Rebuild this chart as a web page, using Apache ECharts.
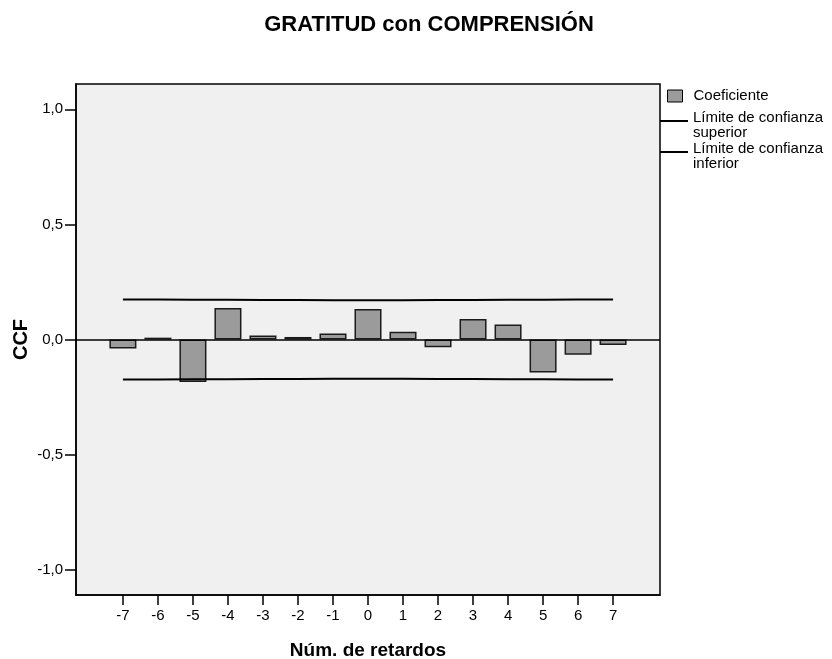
<!DOCTYPE html>
<html>
<head>
<meta charset="utf-8">
<script src="https://cdn.jsdelivr.net/npm/echarts@6/dist/echarts.min.js"></script>
<style>html,body{margin:0;padding:0;background:#fff}#c{width:832px;height:659px}</style>
</head>
<body>
<div id="c"></div>
<script>
const lags = [-7,-6,-5,-4,-3,-2,-1,0,1,2,3,4,5,6,7];
const coef = [-0.039,0.008,-0.185,0.137,0.017,0.011,0.026,0.133,0.034,-0.034,0.089,0.065,-0.143,-0.066,-0.024];
const upper = [0.174,0.174,0.173,0.173,0.172,0.172,0.171,0.171,0.171,0.172,0.172,0.173,0.173,0.174,0.174];
const lower = upper.map(v => -v);
const yTicks = [-1,-0.5,0,0.5,1];
const titleText = 'GRATITUD con COMPRENSIÓN';
const xName = 'Núm. de retardos';
const yName = 'CCF';
const sCoef = 'Coeficiente';
const sUp = 'Límite de confianza\nsuperior';
const sLo = 'Límite de confianza\ninferior';

const font = '"Liberation Sans", Arial, sans-serif';
const lineIcon = 'path://M0,0L28,0L28,2L0,2ZM0,11';
const chart = echarts.init(document.getElementById('c'), null, {renderer:'canvas'});
chart.setOption({
  backgroundColor:'#ffffff',
  animation:false,
  textStyle:{fontFamily:font},
  title:{text:titleText, left:429, top:14, padding:0, textAlign:'center',
    textStyle:{fontFamily:font, fontSize:22, fontWeight:'bold', color:'#000'}},
  grid:{left:76, right:172, top:84, bottom:64, outerBoundsMode:'none', containLabel:false,
    show:true, backgroundColor:'#f0f0f0', borderColor:'#000', borderWidth:1.5},
  legend:[
    {data:[{name:sCoef, icon:'rect', itemStyle:{color:'#9b9b9b', borderColor:'#000', borderWidth:1}}],
     orient:'vertical', left:667, top:87, padding:0, itemWidth:15, itemHeight:12,
     selectedMode:false,
     textStyle:{fontFamily:font, fontSize:15, lineHeight:15, color:'#000', padding:[3,0,0,6]}},
    {data:[{name:sUp, icon:lineIcon, itemStyle:{color:'#000', borderWidth:0}},
           {name:sLo, icon:lineIcon, itemStyle:{color:'#000', borderWidth:0}}],
     orient:'vertical', left:660, top:110.5, padding:0, itemWidth:28, itemHeight:11, itemGap:1,
     selectedMode:false,
     textStyle:{fontFamily:font, fontSize:15, lineHeight:15, color:'#000'}}
  ],
  xAxis:{type:'value', min:-8.34, max:8.34,
    name:xName, nameLocation:'middle', nameGap:46,
    nameTextStyle:{fontFamily:font, fontSize:19, fontWeight:'bold', color:'#000'},
    axisLine:{show:true, onZero:false, lineStyle:{color:'#000', width:1.5}},
    axisTick:{show:true, customValues:lags, length:10, lineStyle:{color:'#000', width:1.5}},
    axisLabel:{customValues:lags, margin:13, fontSize:15, color:'#000', fontFamily:font},
    splitLine:{show:false}},
  yAxis:{type:'value', min:-1.11, max:1.11,
    name:yName, nameLocation:'middle', nameGap:45, nameRotate:90, nameMoveOverlap:false,
    nameTextStyle:{fontFamily:font, fontSize:20, fontWeight:'bold', color:'#000'},
    axisLine:{show:true, onZero:false, lineStyle:{color:'#000', width:1.5}},
    axisTick:{show:true, customValues:yTicks, length:11, lineStyle:{color:'#000', width:1.5}},
    axisLabel:{customValues:yTicks, margin:13, fontSize:15, color:'#000', fontFamily:font,
      formatter:v => v.toFixed(1).replace('.', ',')},
    splitLine:{show:false}},
  series:[
    {name:sCoef, type:'bar', barWidth:27,
     data:lags.map((l,i)=>[l, coef[i]]),
     itemStyle:{color:'#9b9b9b', borderColor:'#1a1a1a', borderWidth:1.5},
     markLine:{silent:true, symbol:['none','none'], label:{show:false},
       lineStyle:{color:'#000', width:1.5, type:'solid'}, data:[{yAxis:0}]},
     z:2},
    {name:sUp, type:'line', symbol:'none', data:lags.map((l,i)=>[l, upper[i]]),
     lineStyle:{color:'#000', width:2}, itemStyle:{color:'#000'}, z:3},
    {name:sLo, type:'line', symbol:'none', data:lags.map((l,i)=>[l, lower[i]]),
     lineStyle:{color:'#000', width:2}, itemStyle:{color:'#000'}, z:3}
  ]
});
</script>
</body>
</html>
